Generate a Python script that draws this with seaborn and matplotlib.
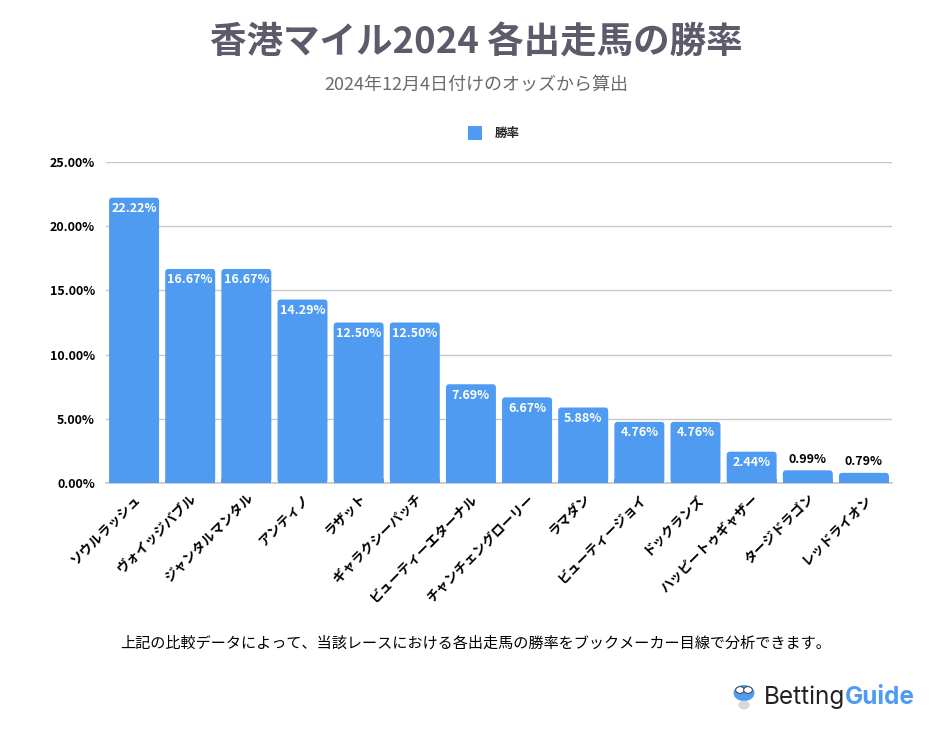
import matplotlib
matplotlib.use('Agg')
import matplotlib.pyplot as plt
import seaborn as sns
import pandas as pd
from matplotlib.patches import FancyBboxPatch, Patch
from matplotlib.ticker import FuncFormatter

# Data
horses = ['ソウルラッシュ', 'ヴォイッジバブル', 'ジャンタルマンタル', 'アンティノ', 'ラザット',
          'ギャラクシーパッチ', 'ビューティーエターナル', 'チャンチェングローリー', 'ラマダン',
          'ビューティージョイ', 'ドックランズ', 'ハッピートゥギャザー', 'タージドラゴン', 'レッドライオン']
win_rate = [22.22, 16.67, 16.67, 14.29, 12.50, 12.50, 7.69, 6.67, 5.88, 4.76, 4.76, 2.44, 0.99, 0.79]
y_ticks = [0, 5, 10, 15, 20, 25]

BAR_COLOR = '#4f9bf2'
TITLE_COLOR = '#5b5b6b'

sns.set_theme(style='white')
plt.rcParams['font.family'] = ['Noto Sans CJK JP', 'DejaVu Sans']

df = pd.DataFrame({'horse': horses, 'rate': win_rate})

fig = plt.figure(figsize=(9.53, 7.33), dpi=100)
ax = fig.add_axes([106 / 953, 1 - 483 / 733, 786 / 953, 321 / 733])

sns.barplot(data=df, x='horse', y='rate', color=BAR_COLOR, saturation=1, width=0.89, ax=ax, zorder=3)

# swap plain bars for rounded ones
ax.set_ylim(0, 25)
ax.set_xlim(-0.5, len(horses) - 0.5)
bars = list(ax.patches)
for p in bars:
    x, w, h = p.get_x(), p.get_width(), p.get_height()
    p.remove()
    rb = FancyBboxPatch((x, 0), w, h, boxstyle='round,pad=0,rounding_size=0.06',
                        mutation_aspect=(25 / 321) / (1 / 56),
                        facecolor=BAR_COLOR, edgecolor='none', zorder=3)
    ax.add_patch(rb)
    # keep the bottom corners square
    ax.add_patch(plt.Rectangle((x, 0), w, min(h, 0.3), facecolor=BAR_COLOR, edgecolor='none', zorder=3))

for i, v in enumerate(win_rate):
    if v > 2:
        ax.text(i, v - 0.35, f'{v:.2f}%', ha='center', va='top', color='white',
                fontsize=9, fontweight='bold', zorder=4)
    else:
        ax.text(i, v + 0.35, f'{v:.2f}%', ha='center', va='bottom', color='black',
                fontsize=9, fontweight='bold', zorder=4)

ax.set_yticks(y_ticks)
ax.yaxis.set_major_formatter(FuncFormatter(lambda v, _: f'{v:.2f}%'))
ax.grid(axis='y', color='#c8c8c8', linewidth=1, zorder=0)
ax.grid(axis='x', visible=False)
for s in ['top', 'right', 'left']:
    ax.spines[s].set_visible(False)
ax.spines['bottom'].set_color('#c8c8c8')
ax.spines['bottom'].set_zorder(2)
ax.set_xlabel('')
ax.set_ylabel('')
ax.tick_params(axis='y', length=0, pad=8, labelsize=9)
ax.tick_params(axis='x', length=0, pad=6, labelsize=9.5)
for lbl in ax.get_yticklabels():
    lbl.set_fontweight('bold')
    lbl.set_color('black')
ax.set_xticks(range(len(horses)))
ax.set_xticklabels(horses, rotation=45, ha='right', rotation_mode='anchor',
                   fontweight='bold', color='black')

# titles
fig.text(0.5, 1 - 43 / 733, '香港マイル2024 各出走馬の勝率', ha='center', va='center',
         fontsize=26.3, fontweight='bold', color=TITLE_COLOR)
fig.text(0.5, 1 - 85 / 733, '2024年12月4日付けのオッズから算出', ha='center', va='center',
         fontsize=13, color='#6b6b6b')

fig.legend(handles=[Patch(facecolor=BAR_COLOR, edgecolor='none')], labels=['勝率'],
           loc='center', bbox_to_anchor=(494 / 953, 1 - 133 / 733), frameon=False,
           handlelength=1.1, handleheight=1.3, handletextpad=1.0,
           prop={'weight': 'bold', 'size': 9})

fig.text(120 / 953, 1 - 643 / 733, '上記の比較データによって、当該レースにおける各出走馬の勝率をブックメーカー目線で分析できます。',
         ha='left', va='center', fontsize=10.9, color='black')

# logo text
t1 = fig.text(764 / 953, 1 - 697 / 733, 'Betting', ha='left', va='center',
              fontsize=17.5, color='#222222', family=['Inter', 'DejaVu Sans'])
fig.canvas.draw()
bb = t1.get_window_extent()
fig.text(bb.x1 / 953, 1 - 697 / 733, 'Guide', ha='left', va='center',
         fontsize=17.5, color=BAR_COLOR, fontweight='bold', family=['Inter', 'DejaVu Sans'])
# simple bird icon
fig.patches.append(plt.Circle((744 / 953, 1 - 693 / 733), 0.011, transform=fig.transFigure,
                              facecolor=BAR_COLOR, edgecolor='none', figure=fig))
fig.patches.append(plt.Circle((744 / 953, 1 - 705 / 733), 0.006, transform=fig.transFigure,
                              facecolor='#d8d8d8', edgecolor='none', figure=fig))
for ex in (740, 748):
    fig.patches.append(plt.Circle((ex / 953, 1 - 690 / 733), 0.0045, transform=fig.transFigure,
                                  facecolor='white', edgecolor='#333333', linewidth=0.6, figure=fig))

fig.savefig('out.png', dpi=100)
